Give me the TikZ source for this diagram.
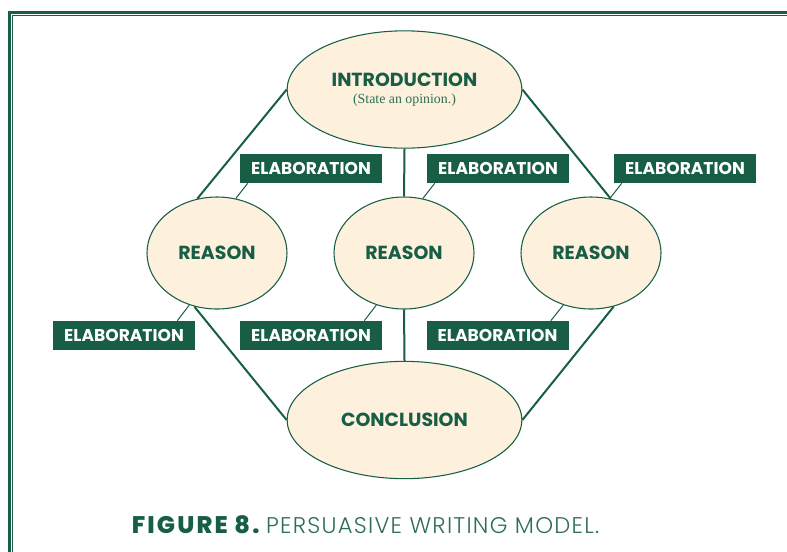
\documentclass[tikz,border=0pt]{standalone}
\usepackage{fontspec}
\setmainfont{Poppins}
\newfontfamily\boldsans{Poppins}[UprightFont=* Bold]
\newfontfamily\capbold{Poppins}[UprightFont=* ExtraBold, LetterSpace=9]
\newfontfamily\caplight{Poppins}[UprightFont=* Light, LetterSpace=5.5]
\newfontfamily\subserif{Liberation Serif}
\usetikzlibrary{shapes.geometric,calc}
\definecolor{dgreen}{HTML}{175E45}
\definecolor{cream}{HTML}{FDF0DD}
\definecolor{lgreen}{HTML}{2F6F55}
\tikzset{
  bubble/.style={ellipse, draw=dgreen, line width=0.8pt, fill=cream, inner sep=0pt, text=dgreen, font=\boldsans\fontsize{14.2}{16}\selectfont, align=center},
  bigbubble/.style={bubble, minimum width=176pt, minimum height=88pt},
  reasonbubble/.style={bubble, minimum width=105pt, minimum height=84pt},
  elab/.style={fill=dgreen, text=white, minimum width=106.5pt, minimum height=21.75pt, inner sep=0pt, font=\boldsans\fontsize{12.8}{14}\selectfont},
  mainline/.style={draw=dgreen, line width=1.5pt},
  thinline/.style={draw=dgreen, line width=0.75pt}
}
\begin{document}
\begin{tikzpicture}[x=0.75pt,y=-0.75pt]
\useasboundingbox (0,0) rectangle (787,551);
% frame
\draw[dgreen, line width=2.25pt] (9.5,600) -- (9.5,12.5) -- (800,12.5);
\draw[dgreen, line width=0.75pt] (12.8,600) -- (12.8,15.8) -- (800,15.8);
\coordinate (ci) at (404.5,89.5);
\coordinate (c1) at (217,253);
\coordinate (c2) at (404,253);
\coordinate (c3) at (591,253);
\coordinate (cc) at (404.5,420);
% nodes
\node[bigbubble] (intro) at (ci) {INTRODUCTION\\[-3pt]{\subserif\fontsize{10.4}{12}\selectfont\color{lgreen}(State an opinion.)}};
\node[reasonbubble] (r1) at (c1) {REASON};
\node[reasonbubble] (r2) at (c2) {REASON};
\node[reasonbubble] (r3) at (c3) {REASON};
\node[bigbubble] (concl) at (cc) {CONCLUSION};
\node[elab] (e1) at (311,168.5) {ELABORATION};
\node[elab] (e2) at (498,168.5) {ELABORATION};
\node[elab] (e3) at (685,168.5) {ELABORATION};
\node[elab] (e4) at (124,335.5) {ELABORATION};
\node[elab] (e5) at (311,335.5) {ELABORATION};
\node[elab] (e6) at (497.5,335.5) {ELABORATION};
% main connectors
\draw[mainline] (intro.west) -- (r1.110);
\draw[mainline] (intro.south) -- (r2.north);
\draw[mainline] (intro.east) -- (r3.70);
\draw[mainline] (r1.247) -- (concl.west);
\draw[mainline] (r2.south) -- (concl.north);
\draw[mainline] (r3.293) -- (concl.east);
% elaboration connectors
\draw[thinline] ([xshift=6pt]e1.south west) -- (r1.71);
\draw[thinline] ([xshift=6pt]e2.south west) -- (r2.71);
\draw[thinline] ([xshift=6pt]e3.south west) -- (r3.71);
\draw[thinline] ([xshift=-13.5pt]e4.north east) -- (r1.242);
\draw[thinline] ([xshift=-13.5pt]e5.north east) -- (r2.242);
\draw[thinline] ([xshift=-13.5pt]e6.north east) -- (r3.242);
% caption
\node[anchor=base, text=dgreen, inner sep=0pt] (cap) at (365.5,533) {{\capbold\fontsize{18}{20}\selectfont FIGURE 8.}\hspace{5pt}{\color{lgreen}\caplight\fontsize{17}{19}\selectfont PERSUASIVE WRITING MODEL.}};
\end{tikzpicture}
\end{document}
